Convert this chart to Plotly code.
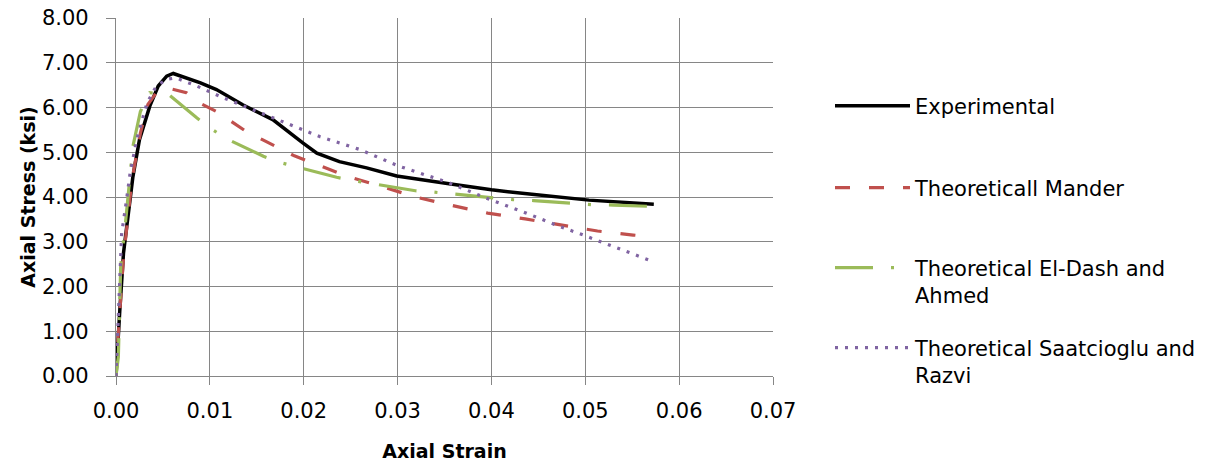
import plotly.graph_objects as go

# ---- data ----
exp_x = [0, 0.0002, 0.0004, 0.0008, 0.0012, 0.0018, 0.0025, 0.0036, 0.0045, 0.0054, 0.0061,
         0.0075, 0.009, 0.0107, 0.0135, 0.0167, 0.0185, 0.0199, 0.0214, 0.0238, 0.0267,
         0.0299, 0.0353, 0.040, 0.0443, 0.0504, 0.0573]
exp_y = [0, 0.6, 1.45, 2.75, 3.5, 4.45, 5.28, 6.03, 6.48, 6.70, 6.76,
         6.66, 6.55, 6.40, 6.06, 5.73, 5.43, 5.21, 4.98, 4.79, 4.65,
         4.47, 4.30, 4.16, 4.06, 3.93, 3.84]

man_x = [0, 0.00025, 0.0008, 0.0017, 0.0026, 0.0034, 0.0043, 0.0054, 0.0075, 0.0089, 0.0107,
         0.0123, 0.0139, 0.0157, 0.0174, 0.019, 0.021, 0.0245, 0.0284, 0.0319, 0.0358,
         0.0396, 0.0436, 0.0476, 0.0513, 0.0551, 0.0571]
man_y = [0, 0.95, 2.65, 4.38, 5.43, 6.07, 6.33, 6.44, 6.33, 6.10, 5.91,
         5.69, 5.46, 5.27, 5.09, 4.92, 4.76, 4.47, 4.23, 4.00, 3.81,
         3.64, 3.51, 3.37, 3.24, 3.15, 3.11]

eld_x = [0, 0.00025, 0.0005, 0.001, 0.0018, 0.0026, 0.0036, 0.0056, 0.0086, 0.0103, 0.012,
         0.0157, 0.0177, 0.0196, 0.0235, 0.0258, 0.0277, 0.0302, 0.0319, 0.0338, 0.0362,
         0.0403, 0.0423, 0.0445, 0.0486, 0.0507, 0.053, 0.0571]
eld_y = [0, 0.43, 2.45, 3.4, 5.13, 5.91, 6.33, 6.29, 5.77, 5.50, 5.28,
         4.91, 4.76, 4.65, 4.44, 4.35, 4.29, 4.20, 4.14, 4.11, 4.06,
         3.98, 3.94, 3.92, 3.87, 3.83, 3.82, 3.79]

sr_x = [0, 0.00025, 0.0006, 0.0011, 0.0015, 0.0022, 0.0033, 0.0043, 0.0054, 0.0064, 0.0086,
        0.0114, 0.0146, 0.0176, 0.0217, 0.026, 0.030, 0.0353, 0.0394, 0.0436, 0.0468,
        0.0499, 0.054, 0.0573]
sr_y = [0, 1.32, 3.18, 3.9, 4.53, 5.28, 6.10, 6.48, 6.63, 6.66, 6.48,
        6.22, 5.95, 5.69, 5.35, 5.06, 4.70, 4.33, 3.98, 3.65, 3.38,
        3.14, 2.81, 2.55]

names = ["Experimental", "Theoreticall Mander",
         "Theoretical El-Dash and<br>Ahmed", "Theoretical Saatcioglu and<br>Razvi"]

x_ticks = [0, 0.01, 0.02, 0.03, 0.04, 0.05, 0.06, 0.07]
y_ticks = [0, 1, 2, 3, 4, 5, 6, 7, 8]

FONT = "DejaVu Sans"
GRID = "#868686"

fig = go.Figure()
fig.add_trace(go.Scatter(x=exp_x, y=exp_y, mode="lines", name=names[0], legend="legend",
                         line=dict(color="#000000", width=3.5)))
fig.add_trace(go.Scatter(x=man_x, y=man_y, mode="lines", name=names[1], legend="legend2",
                         line=dict(color="#C0504D", width=3.2, dash="15px,19px")))
fig.add_trace(go.Scatter(x=eld_x, y=eld_y, mode="lines", name=names[2], legend="legend3",
                         line=dict(color="#9BBB59", width=3.2, dash="38px,18px,3px,18px")))
fig.add_trace(go.Scatter(x=sr_x, y=sr_y, mode="lines", name=names[3], legend="legend4",
                         line=dict(color="#8064A2", width=3.2, dash="3px,7px")))

def leg(top_px):
    return dict(x=(830 - 116) / 657, y=(376 - top_px) / 358,
                xanchor="left", yanchor="top", valign="top",
                bgcolor="rgba(0,0,0,0)", borderwidth=0, itemwidth=75,
                font=dict(family=FONT, size=21, color="#000000"))

fig.update_layout(
    width=1215, height=466,
    margin=dict(l=116, r=442, t=18, b=90, autoexpand=False),
    paper_bgcolor="white", plot_bgcolor="white",
    font=dict(family=FONT, color="#000000"),
    showlegend=True,
    legend=leg(85.5),
    legend2=leg(167.5),
    legend3=leg(247.5),
    legend4=leg(327.5),
    xaxis=dict(range=[0, 0.07], tickvals=x_ticks, tickformat=".2f",
               showgrid=True, gridcolor=GRID, gridwidth=1.3,
               showline=True, linecolor=GRID, linewidth=1.3,
               ticks="outside", ticklen=8, tickcolor=GRID, tickwidth=1.3,
               ticklabelstandoff=8, automargin=False,
               tickfont=dict(family=FONT, size=21, color="#000000"),
               title=dict(text="<b>Axial Strain</b>", standoff=22,
                          font=dict(family=FONT, size=19, color="#000000")),
               zeroline=False, fixedrange=True),
    yaxis=dict(range=[0, 8], tickvals=y_ticks, tickformat=".2f",
               showgrid=True, gridcolor=GRID, gridwidth=1.3,
               showline=True, linecolor=GRID, linewidth=1.3,
               ticks="outside", ticklen=9, tickcolor=GRID, tickwidth=1.3,
               ticklabelstandoff=13, automargin=False,
               tickfont=dict(family=FONT, size=21, color="#000000"),
               title=dict(text="<b>Axial Stress (ksi)</b>", standoff=1,
                          font=dict(family=FONT, size=19, color="#000000")),
               zeroline=False, fixedrange=True),
)

fig.write_html("out.html", config={"displayModeBar": False})
